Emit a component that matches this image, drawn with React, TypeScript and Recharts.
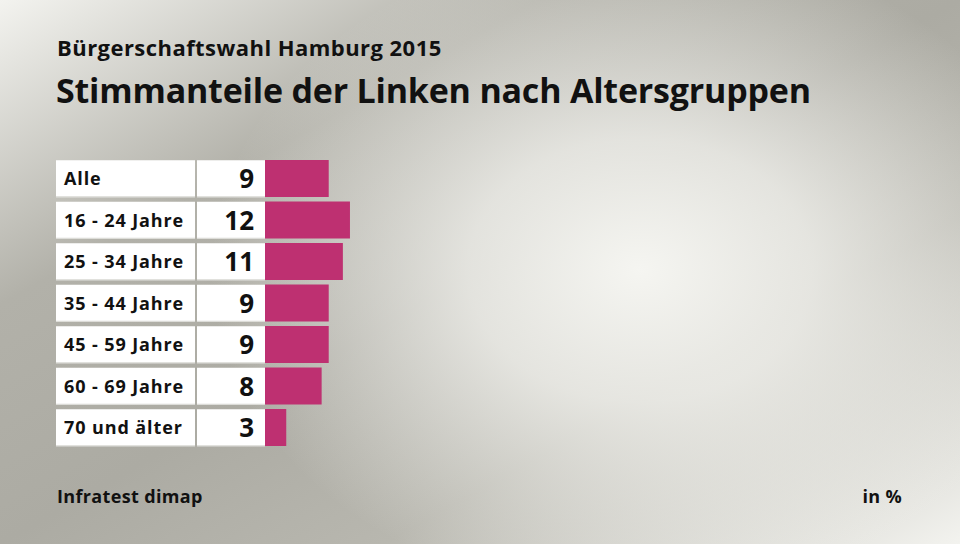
import React from "react";
import { BarChart, Bar, XAxis, YAxis } from "recharts";

const categories = [
  "Alle",
  "16 - 24 Jahre",
  "25 - 34 Jahre",
  "35 - 44 Jahre",
  "45 - 59 Jahre",
  "60 - 69 Jahre",
  "70 und älter",
];
const values = [9, 12, 11, 9, 9, 8, 3];

const subtitle = "Bürgerschaftswahl Hamburg 2015";
const title = "Stimmanteile der Linken nach Altersgruppen";
const source = "Infratest dimap";
const unit = "in %";

const data = categories.map((c, i) => ({ name: c, value: values[i] }));

const FONT = "'Open Sans', Lato, sans-serif";
const BAR_COLOR = "#be3071";
const ROW_H = 37;

function RowTick(props: any) {
  const { y, payload, index } = props;
  const i = typeof index === "number" ? index : payload.index;
  const v = values[i];
  const top = y - ROW_H / 2;
  return (
    <g>
      <rect x={56} y={top} width={139} height={ROW_H} fill="#ffffff" />
      <rect x={56} y={top + ROW_H - 1} width={139} height={1} fill="#d8d8d2" />
      <rect x={197} y={top} width={68} height={ROW_H} fill="#ffffff" />
      <rect x={197} y={top + ROW_H - 1} width={68} height={1} fill="#d8d8d2" />
      <text
        x={64}
        y={y + 6.5}
        fontFamily={FONT}
        fontWeight={700}
        fontSize={18}
        letterSpacing={0.9}
        fill="#111"
      >
        {payload.value}
      </text>
      <text
        x={254}
        y={y + 9.5}
        textAnchor="end"
        fontFamily={FONT}
        fontWeight={700}
        fontSize={26}
        fill="#111"
      >
        {v}
      </text>
    </g>
  );
}

export default function App() {
  return (
    <div
      style={{
        position: "absolute",
        left: 0,
        top: 0,
        width: 960,
        height: 544,
        overflow: "hidden",
        background:
          "radial-gradient(ellipse 430px 330px at 640px 270px, rgba(245,245,241,1) 0%, rgba(245,245,241,0.75) 40%, rgba(245,245,241,0) 100%), linear-gradient(to bottom right, #f3f3ef 0%, #b2b1a9 28%, #acaba3 50%, #b8b7af 70%, #f3f3ef 100%)",
        fontFamily: FONT,
      }}
    >
      <div
        style={{
          position: "absolute",
          left: 57,
          top: 32,
          fontSize: 22,
          letterSpacing: 0.45,
          fontWeight: 700,
          color: "#111",
          whiteSpace: "nowrap",
        }}
      >
        {subtitle}
      </div>
      <div
        style={{
          position: "absolute",
          left: 56,
          top: 67,
          fontSize: 34,
          letterSpacing: -0.2,
          fontWeight: 700,
          color: "#111",
          whiteSpace: "nowrap",
        }}
      >
        {title}
      </div>
      <div style={{ position: "absolute", left: 0, top: 0 }}>
        <BarChart
          width={960}
          height={544}
          data={data}
          layout="vertical"
          margin={{ top: 158, right: 57.8, bottom: 95.5, left: 0 }}
          barSize={ROW_H}
        >
          <XAxis type="number" domain={[0, 90]} hide />
          <YAxis
            type="category"
            dataKey="name"
            width={265}
            axisLine={false}
            tickLine={false}
            interval={0}
            tick={<RowTick />}
          />
          <Bar dataKey="value" fill={BAR_COLOR} isAnimationActive={false} />
        </BarChart>
      </div>
      <div
        style={{
          position: "absolute",
          left: 57,
          top: 484,
          fontSize: 18,
          letterSpacing: 0.35,
          fontWeight: 700,
          color: "#111",
          whiteSpace: "nowrap",
        }}
      >
        {source}
      </div>
      <div
        style={{
          position: "absolute",
          right: 58,
          top: 484,
          fontSize: 18,
          letterSpacing: 0.3,
          fontWeight: 700,
          color: "#111",
          whiteSpace: "nowrap",
        }}
      >
        {unit}
      </div>
    </div>
  );
}
